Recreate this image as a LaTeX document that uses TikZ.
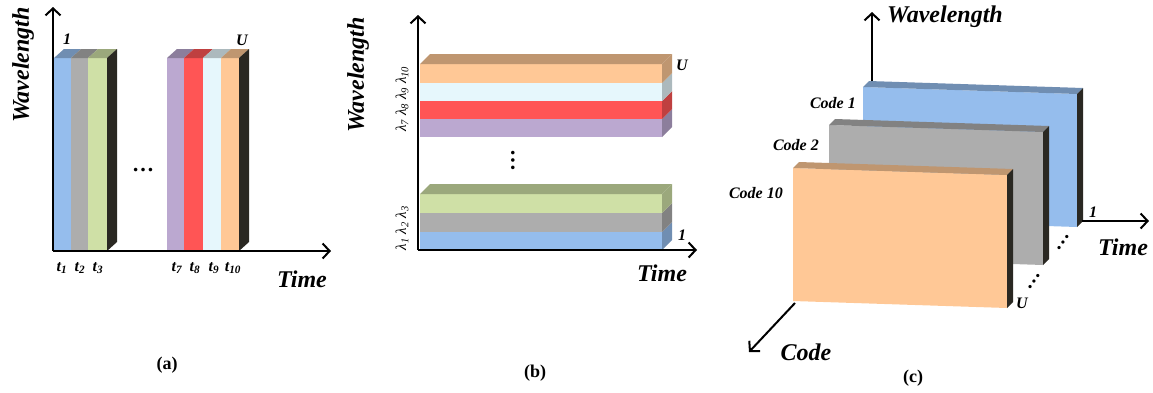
\documentclass[tikz,border=0pt]{standalone}
\usepackage{fontspec}
\setmainfont{Liberation Serif}
\usetikzlibrary{arrows.meta}
\definecolor{cblue}{HTML}{95BDED}
\definecolor{cgray}{HTML}{ADADAD}
\definecolor{cgreen}{HTML}{CFE0A6}
\definecolor{cpurple}{HTML}{BBA8D0}
\definecolor{cred}{HTML}{FF5555}
\definecolor{ccyan}{HTML}{E6F7FC}
\definecolor{corange}{HTML}{FFC896}
\definecolor{cdark}{HTML}{2A2822}
\tikzset{
  every picture/.style={x=1pt, y=-1pt},
  axis/.style={-{Straight Barb[length=7pt, width=15pt, line width=2pt]}, line width=2pt},
  big/.style={font=\fontsize{24}{26}\selectfont\bfseries\itshape, inner sep=0pt},
  lbl/.style={font=\fontsize{16}{18}\selectfont\bfseries\itshape, inner sep=0pt},
  code/.style={font=\fontsize{16}{18}\selectfont\bfseries\itshape, inner sep=0pt, anchor=east},
  lam/.style={font=\fontsize{15}{17}\selectfont\itshape, inner sep=0pt, rotate=90},
  dots/.style={font=\fontsize{22}{24}\selectfont\bfseries, inner sep=0pt},
  tag/.style={font=\fontsize{18}{20}\selectfont\bfseries, inner sep=0pt},
}
\newcommand{\tsub}[1]{\textit{t}\textsubscript{\textit{#1}}}
\newcommand{\lsub}[1]{λ\textsubscript{#1}}

\begin{document}
\begin{tikzpicture}
  \useasboundingbox (0,0) rectangle (1153,392);
  % (a) one wavelength per time slot
  \foreach \xl/\xr/\c in {54/71/cblue, 71/88/cgray, 88/107/cgreen, 167/184/cpurple, 184/203/cred, 203/221/ccyan, 221/239/corange} {
    \fill[\c] (\xl,58) rectangle (\xr,251);
    \fill[\c!75!black] (\xl,58) -- (\xr,58) -- (\xr+10,49) -- (\xl+10,49) -- cycle;
  }
  \fill[cdark] (107,58) -- (117,49) -- (117,242) -- (107,251) -- cycle;
  \fill[cdark] (239,58) -- (249,49) -- (249,242) -- (239,251) -- cycle;
  \coordinate (ao) at (53,251);
  \coordinate (ay) at (53,7);
  \coordinate (ax) at (331,251);
  \draw[axis] (ao) -- (ay);
  \draw[axis] (ao) -- (ax);
  \node[big, rotate=90] (awl) at (23,65) {Wavelength};
  \node[big] (atime) at (302,279) {Time};
  \node[lbl] (a1) at (67,39) {1};
  \node[lbl] (au) at (242,40) {U};
  \node[dots] (adots) at (143,170) {…};
  \foreach \k/\x in {1/62, 2/80, 3/98, 7/177, 8/195, 9/214, 10/233}
    \node[lbl] (t\k) at (\x,268) {\tsub{\k}};
  \node[tag] (capa) at (167,365) {(a)};

  % (b) one time slot per wavelength
  \foreach \yt/\yb/\c in {232/250/cblue, 213/232/cgray, 194/213/cgreen, 119/137/cpurple, 101/119/cred, 83/101/ccyan, 64/83/corange} {
    \fill[\c] (420,\yt) rectangle (662,\yb);
    \fill[\c!75!black] (662,\yt) -- (672,\yt-10) -- (672,\yb-10) -- (662,\yb) -- cycle;
  }
  \fill[cgreen!75!black] (420,194) -- (662,194) -- (672,184) -- (430,184) -- cycle;
  \fill[corange!75!black] (420,64) -- (662,64) -- (672,54) -- (430,54) -- cycle;
  \coordinate (bo) at (418,250);
  \coordinate (by) at (418,15);
  \coordinate (bx) at (697,250);
  \draw[axis] (bo) -- (by);
  \draw[axis] (bo) -- (bx);
  \node[big, rotate=90] (bwl) at (358,75) {Wavelength};
  \node[big] (btime) at (662,273) {Time};
  \node[lam] (blhi) at (402,99) {\lsub{7} \lsub{8} \lsub{9} \lsub{10}};
  \node[lam] (bllo) at (402,228) {\lsub{1} \lsub{2} \lsub{3}};
  \node[lbl] (bu) at (682,65) {U};
  \node[lbl] (b1) at (682,235) {1};
  \node[dots, rotate=90] (bdots) at (513,160) {…};
  \node[tag] (capb) at (535,373) {(b)};

  % (c) codes stacked along the third axis
  \foreach \x/\y/\c in {863/87/cblue, 829/125/cgray, 793/168/corange} {
    \fill[\c] (\x,\y) -- (\x+214,\y+7) -- (\x+214,\y+140) -- (\x,\y+133) -- cycle;
    \fill[\c!75!black] (\x,\y) -- (\x+6,\y-6) -- (\x+220,\y+1) -- (\x+214,\y+7) -- cycle;
    \fill[cdark] (\x+214,\y+7) -- (\x+220,\y+1) -- (\x+220,\y+134) -- (\x+214,\y+140) -- cycle;
  }
  \coordinate (cw0) at (872,81);
  \coordinate (cw1) at (872,12);
  \coordinate (ct0) at (1082,221);
  \coordinate (ct1) at (1149,221);
  \coordinate (cc0) at (795,303);
  \coordinate (cc1) at (749,352);
  \draw[axis] (cw0) -- (cw1);
  \draw[axis] (ct0) -- (ct1);
  \draw[axis] (cc0) -- (cc1);
  \node[big] (cwl) at (945,17) {Wavelength};
  \node[big] (ctime) at (1123,247) {Time};
  \node[big] (ccode) at (806,352) {Code};
  \node[code] (code1) at (856,103) {Code 1};
  \node[code] (code2) at (819,145) {Code 2};
  \node[code] (code10) at (783,193) {Code 10};
  \node[lbl] (c1) at (1093,212) {1};
  \node[lbl] (cu) at (1022,303) {U};
  \node[dots, font=\fontsize{20}{22}\selectfont\bfseries, rotate=55] (cdots1) at (1063,243) {…};
  \node[dots, font=\fontsize{20}{22}\selectfont\bfseries, rotate=55] (cdots2) at (1034,282) {…};
  \node[tag] (capc) at (913,378) {(c)};
\end{tikzpicture}
\end{document}
